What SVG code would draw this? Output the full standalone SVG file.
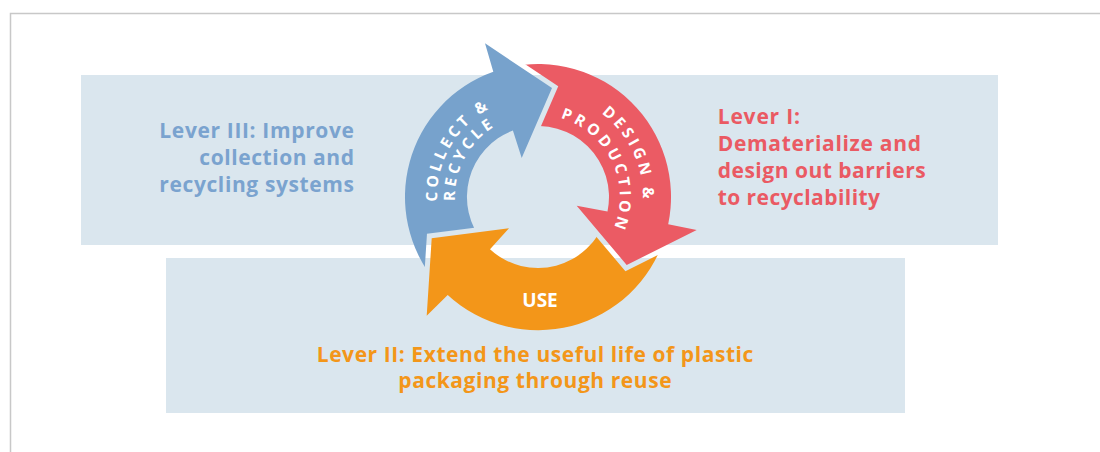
<svg xmlns="http://www.w3.org/2000/svg" width="1100" height="452" viewBox="0 0 1100 452">
<style>
.box{fill:#dae6ee}
.lever{font-family:"Open Sans","Liberation Sans",sans-serif;font-weight:700;font-size:21px}
.blue{fill:#7aa3cf}
.red{fill:#ea5a63}
.orange{fill:#f39619}
.atxt{font-family:"Open Sans","Liberation Sans",sans-serif;font-weight:700;font-size:15.5px;fill:#fff;letter-spacing:3.6px}
.use{font-family:"Open Sans","Liberation Sans",sans-serif;font-weight:700;font-size:19px;fill:#fff}
.gap{fill:#000;stroke:#000;stroke-width:10;stroke-linejoin:miter}
</style>
<defs>
<mask id="mBlue" maskUnits="userSpaceOnUse" x="0" y="0" width="1100" height="452">
<rect width="1100" height="452" fill="#fff"/>
<polygon class="gap" points="431.7,238.3 426.7,315.7 509,228.3"/>
</mask>
<mask id="mRed" maskUnits="userSpaceOnUse" x="0" y="0" width="1100" height="452">
<rect width="1100" height="452" fill="#fff"/>
<polygon class="gap" points="485,43.3 552,88 521.7,158"/>
</mask>
<mask id="mOrange" maskUnits="userSpaceOnUse" x="0" y="0" width="1100" height="452">
<rect width="1100" height="452" fill="#fff"/>
<polygon class="gap" points="696.7,230 626.7,265 576.7,205.7"/>
</mask>
<path id="pBlueOut" d="M473.08,274.37 A101,101 0 0 1 572.54,102.09"/>
<path id="pBlueIn" d="M486.33,261.96 A83,83 0 0 1 564.34,118.29"/>
<path id="pRedOut" d="M510.82,95.58 A105,105 0 0 1 598.23,283.01"/>
<path id="pRedIn" d="M516.78,117.79 A82,82 0 0 1 585.03,264.17"/>
</defs>

<path d="M10.5,452 V13.5 H1100" fill="none" stroke="#c8c8c8" stroke-width="1.5"/>

<g id="box-top"><rect class="box" x="81" y="75" width="917" height="170"/></g>
<g id="box-bottom"><rect class="box" x="166" y="258" width="739" height="155"/></g>

<g id="connectors">
<g id="arrow-collect">
<path mask="url(#mBlue)" d="M493.3,71.7 L485,43.3 L552,88 L521.7,158 L512.9,130.5 A71,71 0 0 0 483.61,242.64 L436.12,282.49 A133,133 0 0 1 493.3,71.7 Z" fill="#77a2cc"/>
<text class="atxt"><textPath href="#pBlueOut" startOffset="50%" text-anchor="middle">COLLECT &amp;</textPath></text>
<text class="atxt"><textPath href="#pBlueIn" startOffset="50%" text-anchor="middle">RECYCLE</textPath></text>
</g>
<g id="arrow-design">
<path mask="url(#mRed)" d="M668.2,224.2 L696.7,230 L626.7,265 L576.7,205.7 L607.5,211.5 A71,71 0 0 0 522.03,127.82 L508.08,67.4 A133,133 0 0 1 668.2,224.2 Z" fill="#eb5b64"/>
<text class="atxt"><textPath href="#pRedOut" startOffset="50%" text-anchor="middle">DESIGN &amp;</textPath></text>
<text class="atxt"><textPath href="#pRedIn" startOffset="50%" text-anchor="middle">PRODUCTION</textPath></text>
</g>
<g id="arrow-use">
<path mask="url(#mOrange)" d="M447.7,295 L426.7,315.7 L431.7,238.3 L509,228.3 L490,249.3 A71,71 0 0 0 605.53,218.94 L664.49,238.1 A133,133 0 0 1 447.7,295 Z" fill="#f39619"/>
<text class="use" x="540" y="306.5" text-anchor="middle">USE</text>
</g>
</g>

<g id="lever-3" class="blue">
<text class="lever" x="159.3" y="138.3" textLength="194.7">Lever III: Improve</text>
<text class="lever" x="199.3" y="165" textLength="154.7">collection and</text>
<text class="lever" x="159.3" y="191.7" textLength="194.7">recycling systems</text>
</g>
<g id="lever-1" class="red">
<text class="lever" x="717.7" y="123.5" textLength="82.3">Lever I:</text>
<text class="lever" x="717.7" y="150.5" textLength="203.3">Dematerialize and</text>
<text class="lever" x="717.7" y="177.5" textLength="208">design out barriers</text>
<text class="lever" x="717.7" y="204.5" textLength="162.3">to recyclability</text>
</g>
<g id="lever-2" class="orange">
<text class="lever" x="316.7" y="361.7" textLength="436.7">Lever II: Extend the useful life of plastic</text>
<text class="lever" x="398.3" y="388.3" textLength="273.3">packaging through reuse</text>
</g>
</svg>
